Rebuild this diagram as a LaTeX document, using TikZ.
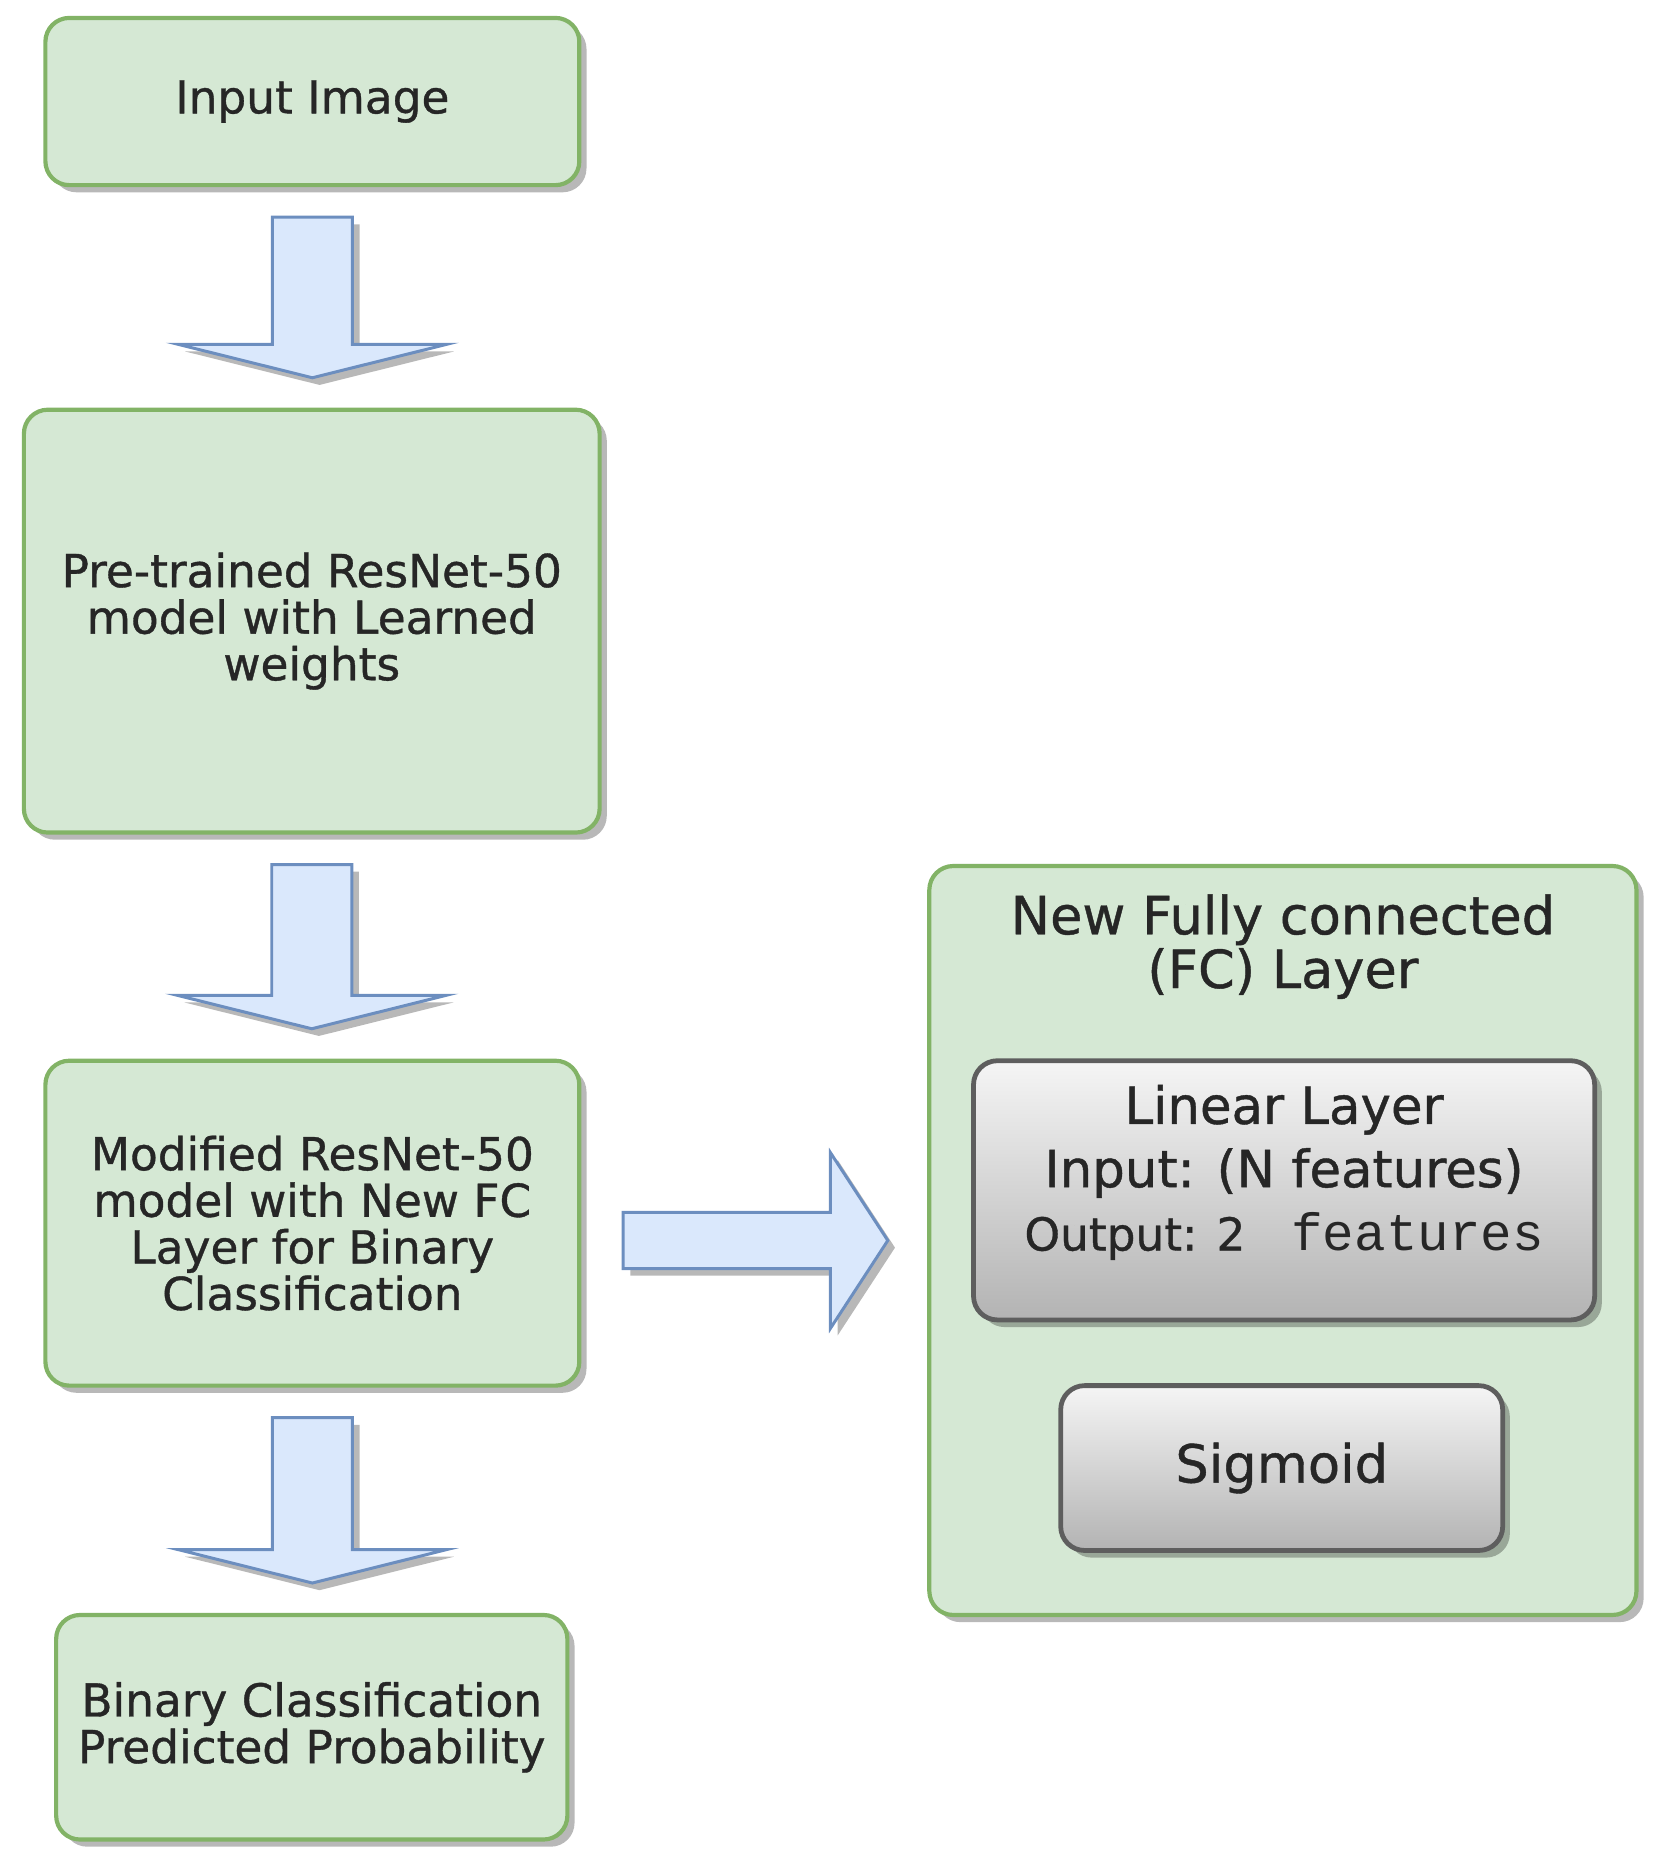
\documentclass[tikz,border=0pt]{standalone}
\usepackage{fontspec}
\setmainfont[FakeBold=0.8]{DejaVu Sans}
\newfontfamily\monofnt{Liberation Mono}
\usetikzlibrary{shadows,calc}
\definecolor{gfill}{HTML}{D5E8D4}
\definecolor{gline}{HTML}{82B366}
\definecolor{bfill}{HTML}{DAE8FC}
\definecolor{bline}{HTML}{6C8EBF}
\definecolor{txt}{HTML}{262626}
\definecolor{gtop}{HTML}{F5F5F5}
\definecolor{gbot}{HTML}{B3B3B3}
\definecolor{gline2}{HTML}{5E5E5E}
\tikzset{
 shad/.style={drop shadow={shadow xshift=6pt, shadow yshift=-6pt, fill=black, opacity=0.28}},
 gbox/.style={draw=gline, fill=gfill, line width=3.5pt, rounded corners=20pt, shad, align=center, text=txt, inner sep=0pt, font=\fontsize{38}{39}\selectfont},
 graybox/.style={draw=gline2, line width=4pt, top color=gtop, bottom color=gbot, rounded corners=20pt, shad, inner sep=0pt, align=center, text=txt},
 blk/.style={draw=bline, fill=bfill, line width=2.5pt, line join=miter, shad},
 lbl/.style={align=center, text=txt, inner sep=0pt},
}
\newcommand\dnarrow[2]{%
  \path[blk] let \p1=(#1.south), \p2=(#2.north) in
   (\x1-33.5pt,\y1-25pt) -- (\x1+33.5pt,\y1-25pt) -- (\x1+33.5pt,\y2+53pt)
   -- (\x1+112.5pt,\y2+53pt) -- (\x1,\y2+25pt) -- (\x1-112.5pt,\y2+53pt)
   -- (\x1-33.5pt,\y2+53pt) -- cycle;}
\begin{document}
\begin{tikzpicture}[x=1pt,y=-1pt]
\useasboundingbox (0,0) rectangle (1390,1563);
% left column
\node[gbox, minimum width=447pt, minimum height=140pt] (inp) at (261.5,85) {Input Image};
\node[gbox, minimum width=482pt, minimum height=354pt] (pre) at (261,520) {Pre-trained ResNet-50\\model with Learned\\weights};
\node[gbox, minimum width=447pt, minimum height=272pt] (mod) at (261.5,1024) {Modified ResNet-50\\model with New FC\\Layer for Binary\\Classification};
\node[gbox, minimum width=428pt, minimum height=188pt] (bin) at (261,1446) {Binary Classification\\Predicted Probability};
% right container
\node[gbox, minimum width=592pt, minimum height=627pt] (fc) at (1074,1038.5) {};
\node[lbl, font=\fontsize{44}{45}\selectfont] (fct) at (1074,792.5) {New Fully connected\\(FC) Layer};
\node[graybox, minimum width=520pt, minimum height=217pt] (lin) at (1075,996.5) {};
\node[lbl, font=\fontsize{43}{53}\selectfont] (lint) at (1075,981.5) {Linear Layer\\Input: (N features)\\{\fontsize{38}{53}\selectfont Output: 2 }{\monofnt\fontsize{44}{53}\selectfont\ features}};
\node[graybox, minimum width=370pt, minimum height=138pt, font=\fontsize{44}{45}\selectfont] (sig) at (1073,1229) {Sigmoid};
% block arrows
\dnarrow{inp}{pre}
\dnarrow{pre}{mod}
\dnarrow{mod}{bin}
\path[blk] let \p1=(mod.east), \p2=(fc.west) in
   (\x1+35pt,\y2+23.5pt) -- (\x2-81pt,\y2+23.5pt) -- (\x2-81pt,\y2+73.5pt)
   -- (\x2-33pt,\y2) -- (\x2-81pt,\y2-73.5pt) -- (\x2-81pt,\y2-23.5pt)
   -- (\x1+35pt,\y2-23.5pt) -- cycle;
\end{tikzpicture}
\end{document}
